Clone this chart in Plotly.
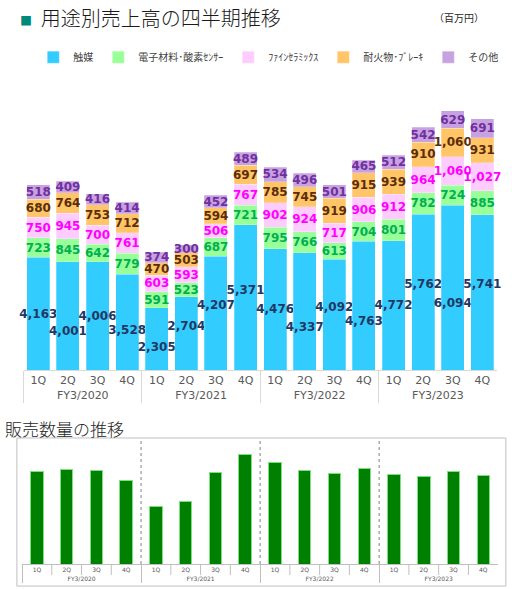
import plotly.graph_objects as go

# 四半期ラベル
fy = ['FY3/2020'] * 4 + ['FY3/2021'] * 4 + ['FY3/2022'] * 4 + ['FY3/2023'] * 4
qs = ['1Q', '2Q', '3Q', '4Q'] * 4

# 用途別売上高（百万円）
catalyst = [4163, 4001, 4006, 3528, 2305, 2704, 4207, 5371, 4476, 4337, 4092, 4763, 4772, 5762, 6094, 5741]
electronic = [723, 845, 642, 779, 591, 523, 687, 721, 795, 766, 613, 704, 801, 782, 724, 885]
ceramics = [750, 945, 700, 761, 603, 593, 506, 767, 902, 924, 717, 906, 912, 964, 1060, 1027]
refractory = [680, 764, 753, 712, 470, 503, 594, 697, 785, 745, 919, 915, 939, 910, 1060, 931]
others = [518, 409, 416, 414, 374, 300, 452, 489, 534, 496, 501, 465, 512, 542, 629, 691]

# 販売数量（目盛なし、相対値）
volume = [92, 94, 93, 84, 58, 63, 91, 109, 101, 93, 90, 95, 89, 87, 92, 88]

series = [
    ('触媒', catalyst, '#33ccff', '#1f3864'),
    ('電子材料･酸素ｾﾝｻｰ', electronic, '#99ff99', '#00b050'),
    ('ﾌｧｲﾝｾﾗﾐｯｸｽ', ceramics, '#ffccff', '#ff00ff'),
    ('耐火物･ﾌﾞﾚｰｷ', refractory, '#ffc566', '#5c2d0a'),
    ('その他', others, '#c8a2e0', '#7030a0'),
]

totals = [sum(t) for t in zip(catalyst, electronic, ceramics, refractory, others)]
y_top = max(totals) * 290 / 259
px_per_unit = 0.4924 * 589 / y_top


def stagger(vals, line_h=15.6, min_gap=14):
    # 触媒のラベルは棒より幅が広いので、隣と重なる時は行送りで上下にずらす
    out, prev = [], None
    for v in vals:
        c = v / 2 * px_per_unit
        best = 0
        if prev is not None:
            best = max([0, 0.5, -0.5, 1, -1], key=lambda s: abs(c - s * line_h - prev))
            for s in [0, 0.5, -0.5, 1, -1]:
                if abs(c - s * line_h - prev) >= min_gap:
                    best = s
                    break
        prev = c - best * line_h
        t = f'{v:,}'
        pad = {0: t, 0.5: '&nbsp;<br>' + t, -0.5: t + '<br>&nbsp;',
               1: '&nbsp;<br>&nbsp;<br>' + t, -1: t + '<br>&nbsp;<br>&nbsp;'}
        out.append(pad[best])
    return out


fig = go.Figure()
for name, vals, col, tcol in series:
    labels = stagger(vals) if name == '触媒' else [f'{v:,}' for v in vals]
    fig.add_trace(go.Bar(
        x=[fy, qs], y=vals, name=name, marker_color=col,
        marker_line=dict(color='rgba(255,255,255,0.5)', width=0.5),
        text=labels, texttemplate='%{text}', textposition='inside', insidetextanchor='middle',
        constraintext='none', textangle=0, cliponaxis=False,
        textfont=dict(family='DejaVu Sans', size=12, color=tcol, weight='bold'),
        xaxis='x', yaxis='y'))

fig.add_trace(go.Bar(
    x=[fy, qs], y=volume, name='販売数量', showlegend=False, width=0.42,
    marker_color='#008000', marker_line=dict(color='#7ee07e', width=1),
    xaxis='x2', yaxis='y2'))

base2 = 0.0424
fig.update_layout(
    width=512, height=589, margin=dict(l=0, r=0, t=0, b=0),
    paper_bgcolor='white', plot_bgcolor='white',
    barmode='stack', bargap=0.22, showlegend=True,
    font=dict(family='DejaVu Sans', color='#404040'),
    legend=dict(orientation='h', x=0.065, y=0.903, xanchor='left', yanchor='middle',
                traceorder='normal',
                font=dict(family='Noto Sans CJK JP', size=10, color='#404040'),
                itemwidth=30, tracegroupgap=0),
    xaxis=dict(domain=[0.046, 0.971], anchor='y', type='multicategory',
               showline=True, linecolor='#d9d9d9', showdividers=True,
               dividercolor='#d9d9d9', dividerwidth=1, ticks='',
               tickfont=dict(size=11, color='#595959')),
    yaxis=dict(domain=[0.3718, 0.8642], range=[0, y_top], visible=False, showgrid=False),
    xaxis2=dict(domain=[0.043, 0.973], anchor='y2', type='multicategory',
                showline=True, linecolor='#bfbfbf', showdividers=True,
                dividercolor='#bfbfbf', dividerwidth=1, ticks='',
                tickfont=dict(size=6, color='#595959')),
    yaxis2=dict(domain=[base2, 0.2564], range=[0, 126], visible=False, showgrid=False),
)

# 下段グラフの枠と年度区切り（点線）
fig.add_shape(type='rect', xref='paper', yref='paper', x0=0.033, x1=0.988, y0=0.005, y1=0.2564,
              line=dict(color='#bfbfbf', width=1))
for xv in [3.5, 7.5, 11.5]:
    fig.add_shape(type='line', xref='x2', yref='y2', x0=xv, x1=xv, y0=0, y1=126,
                  line=dict(color='#808080', width=1, dash='dot'))
# 四半期セルの区切り線
for k in range(16):
    if k % 4 != 0:
        fig.add_shape(type='line', xref='x2', yref='paper', x0=k - 0.5, x1=k - 0.5,
                      y0=base2, y1=base2 - 11 / 589, line=dict(color='#bfbfbf', width=1))

fig.add_annotation(xref='paper', yref='paper', x=0.035, y=0.97, xanchor='left', yanchor='middle',
                   showarrow=False,
                   text="<span style='color:#00897b;font-size:12px'>■</span>  用途別売上高の四半期推移",
                   font=dict(family='Noto Sans CJK JP', size=20, color='#1a1a1a', weight=300))
fig.add_annotation(xref='paper', yref='paper', x=0.95, y=0.97, xanchor='right', yanchor='middle',
                   showarrow=False, text='（百万円）',
                   font=dict(family='Noto Sans CJK JP', size=10, color='#262626'))
fig.add_annotation(xref='paper', yref='paper', x=0.005, y=0.273, xanchor='left', yanchor='middle',
                   showarrow=False, text='販売数量の推移',
                   font=dict(family='Noto Sans CJK JP', size=17, color='#262626', weight=300))

# ページ既定の余白（8px）を消して図を左上に合わせる
fig.write_html('out.html', config={'displayModeBar': False},
               post_script="document.body.style.margin='0';")
